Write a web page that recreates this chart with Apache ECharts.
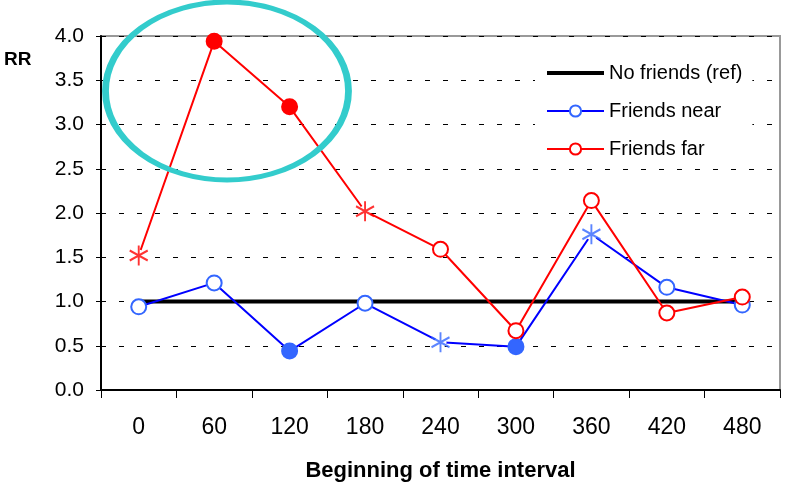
<!DOCTYPE html>
<html>
<head>
<meta charset="utf-8">
<script src="https://cdn.jsdelivr.net/npm/echarts@6/dist/echarts.min.js"></script>
<style>html,body{margin:0;padding:0;background:#fff;}#c{width:796px;height:490px;}</style>
</head>
<body>
<div id="c"></div>
<script>
const categories = ['0','60','120','180','240','300','360','420','480'];
const noFriends = [1,1,1,1,1,1,1,1,1];
const friendsNear = [0.94,1.21,0.44,0.98,0.54,0.49,1.76,1.16,0.96];
const friendsFar = [1.52,3.94,3.20,2.02,1.59,0.67,2.14,0.87,1.05];
// marker kinds: o = open circle, f = filled circle, s = asterisk
const nearMarks = ['o','o','f','o','s','f','s','o','o'];
const farMarks = ['s','f','f','s','o','o','o','o','o'];
const yTicks = [0,0.5,1,1.5,2,2.5,3,3.5,4];

const FONT = 'Liberation Sans, Arial, Helvetica, sans-serif';
const RED = '#FF0000', BLUE_LINE = '#0000FF', BLUE_MARK = '#3366FF';
const STAR = 'path://M10,0L10,20M1.34,5L18.66,15M1.34,15L18.66,5';

function lineData(vals, marks, col) {
  return vals.map((v, i) => {
    const m = marks[i];
    if (m === 'f') return {value: v, symbol: 'circle', itemStyle: {color: col, borderColor: col}};
    if (m === 's') return {value: v, symbol: 'circle', symbolSize: 12, itemStyle: {color: '#fff', borderColor: '#fff', borderWidth: 0}};
    return {value: v};
  });
}
function starData(vals, marks) {
  return vals.map((v, i) => marks[i] === 's' ? v : '-');
}

const chart = echarts.init(document.getElementById('c'), null, {renderer: 'canvas'});
chart.setOption({
  animation: false,
  backgroundColor: '#fff',
  textStyle: {fontFamily: FONT},
  title: {text: 'RR', left: 4, top: 50, padding: 0, textStyle: {fontSize: 19, fontWeight: 'bold', color: '#000', fontFamily: FONT}},
  grid: {left: 101, right: 16, top: 36, bottom: 100, show: true, borderColor: '#999', borderWidth: 2, backgroundColor: 'transparent'},
  legend: {
    orient: 'vertical', left: 535, top: 57, padding: [6, 10],
    backgroundColor: '#fff', itemWidth: 57, itemHeight: 14, itemGap: 18,
    data: [
      {name: 'No friends (ref)', itemStyle: {color: 'transparent', borderColor: 'transparent', borderWidth: 0, opacity: 0}, lineStyle: {color: '#000', width: 4}},
      {name: 'Friends near'},
      {name: 'Friends far'}
    ],
    textStyle: {fontSize: 20, lineHeight: 20, color: '#000', fontFamily: FONT}
  },
  xAxis: {
    type: 'category', data: categories, boundaryGap: true,
    name: 'Beginning of time interval', nameLocation: 'middle', nameGap: 70,
    nameTextStyle: {fontSize: 22, fontWeight: 'bold', color: '#000', fontFamily: FONT},
    axisLine: {lineStyle: {color: '#000', width: 2}},
    axisTick: {show: true, length: 8, lineStyle: {color: '#000', width: 1}},
    axisLabel: {fontSize: 23, color: '#000', margin: 26, fontFamily: FONT}
  },
  yAxis: {
    type: 'value', min: 0, max: 4, interval: 0.5,
    axisLine: {show: true, lineStyle: {color: '#000', width: 2}},
    axisTick: {show: true, length: 5, lineStyle: {color: '#000'}},
    axisLabel: {fontSize: 21, color: '#000', margin: 17, fontFamily: FONT, formatter: v => v.toFixed(1)},
    splitLine: {show: true, lineStyle: {color: '#000', type: [5, 13], width: 1}}
  },
  graphic: [{
    type: 'circle', z: 100, x: 227, y: 91, scaleX: 121.5 / 89, scaleY: 1,
    shape: {cx: 0, cy: 0, r: 89},
    style: {fill: 'none', stroke: '#33CCCC', lineWidth: 5, strokeNoScale: true}
  }],
  series: [
    {name: 'No friends (ref)', type: 'line', data: noFriends, symbol: 'none',
     lineStyle: {color: '#000', width: 4}, itemStyle: {color: '#000'}, z: 2},
    {name: 'Friends near', type: 'line', data: lineData(friendsNear, nearMarks, BLUE_MARK),
     symbol: 'circle', symbolSize: 15, showAllSymbol: true,
     lineStyle: {color: BLUE_LINE, width: 2},
     itemStyle: {color: '#fff', borderColor: BLUE_MARK, borderWidth: 2}, z: 3},
    {name: 'Friends far', type: 'line', data: lineData(friendsFar, farMarks, RED),
     symbol: 'circle', symbolSize: 15, showAllSymbol: true,
     lineStyle: {color: RED, width: 2},
     itemStyle: {color: '#fff', borderColor: RED, borderWidth: 2}, z: 4},
    {name: 'near-star', type: 'scatter', data: starData(friendsNear, nearMarks),
     symbol: STAR, symbolSize: [18, 20], itemStyle: {color: 'none', borderColor: BLUE_MARK, borderWidth: 2}, z: 5},
    {name: 'far-star', type: 'scatter', data: starData(friendsFar, farMarks),
     symbol: STAR, symbolSize: [18, 20], itemStyle: {color: 'none', borderColor: RED, borderWidth: 2}, z: 5}
  ]
});
</script>
</body>
</html>
